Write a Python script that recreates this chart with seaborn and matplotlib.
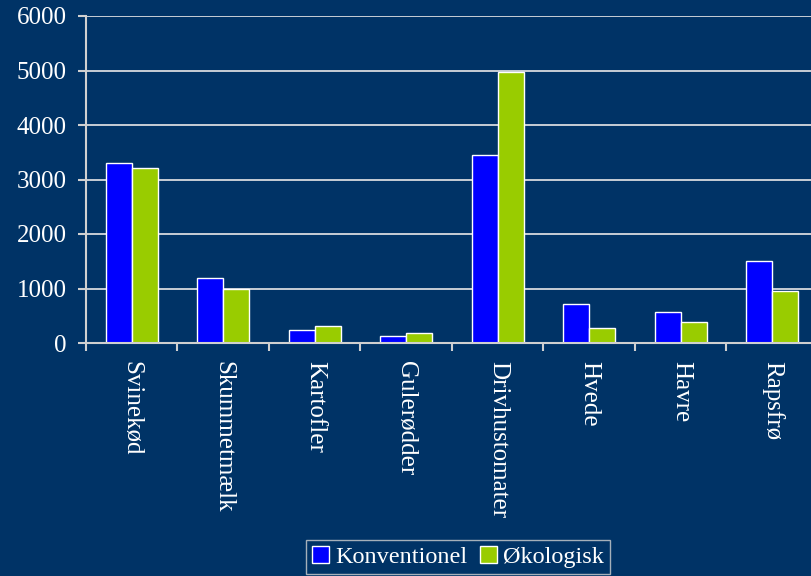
import numpy as np
import pandas as pd
import matplotlib
matplotlib.use("Agg")
import matplotlib.pyplot as plt
import seaborn as sns

# data
categories = ["Svinekød", "Skummetmælk", "Kartofler", "Gulerødder",
              "Drivhustomater", "Hvede", "Havre", "Rapsfrø"]
konventionel = [3310, 1200, 230, 120, 3450, 720, 575, 1510]
okologisk = [3220, 1000, 320, 190, 4970, 280, 390, 950]
series = ["Konventionel", "Økologisk"]
colors = ["#0000ff", "#99cc00"]
yticks = [0, 1000, 2000, 3000, 4000, 5000, 6000]

BG = "#003366"
LINE = "#d0d0d0"

df = pd.DataFrame({
    "kategori": categories * 2,
    "serie": [series[0]] * len(categories) + [series[1]] * len(categories),
    "vaerdi": konventionel + okologisk,
})

sns.set_style("white")
plt.rcParams["font.family"] = ["Liberation Serif", "DejaVu Serif"]

fig = plt.figure(figsize=(8.12, 5.76), dpi=100, facecolor=BG)
ax = fig.add_axes([86 / 812, 1 - 343 / 576, 732 / 812, 327 / 576], facecolor=BG)

sns.barplot(data=df, x="kategori", y="vaerdi", hue="serie", order=categories,
            hue_order=series, palette=colors, width=0.57, edgecolor="white",
            linewidth=1, saturation=1, ax=ax, legend=False)

ax.set_ylim(0, 6000)
ax.set_xlim(-0.5, len(categories) - 0.5)
ax.set_yticks(yticks)
ax.set_yticklabels([str(t) for t in yticks], color="white", fontsize=18)
ax.yaxis.grid(True, color="#e8e8e8", linewidth=1.2)
ax.set_axisbelow(True)

# labels at centres, tick marks at the category boundaries
ax.set_xticks(np.arange(len(categories)))
ax.set_xticklabels(categories, rotation=270, color="white", fontsize=18,
                   ha="center", va="top")
ax.tick_params(axis="x", which="major", bottom=True, length=0, pad=13)
ax.set_xticks(np.arange(len(categories) + 1) - 0.5, minor=True)
ax.tick_params(axis="x", which="minor", bottom=True, length=6, width=1.5,
               color=LINE, direction="out")
ax.tick_params(axis="y", left=True, length=6, width=1.5, color=LINE,
               direction="out", pad=8)

for side in ["top", "right"]:
    ax.spines[side].set_visible(False)
for side in ["left", "bottom"]:
    ax.spines[side].set_color(LINE)
    ax.spines[side].set_linewidth(1.5)
ax.set_xlabel("")
ax.set_ylabel("")

handles = [plt.Rectangle((0, 0), 1, 1, facecolor=c, edgecolor="white", linewidth=1)
           for c in colors]
leg = fig.legend(handles, series, loc="lower center", bbox_to_anchor=(458 / 812, -0.005),
                 ncol=2, frameon=True, fancybox=False, fontsize=17.5,
                 handlelength=0.7, handleheight=0.7, handletextpad=0.25,
                 columnspacing=0.5, borderpad=0.25, borderaxespad=0.2,
                 labelcolor="white")
leg.get_frame().set_facecolor(BG)
leg.get_frame().set_edgecolor(LINE)
leg.get_frame().set_linewidth(1)

fig.savefig("out.png", dpi=100, facecolor=BG)
